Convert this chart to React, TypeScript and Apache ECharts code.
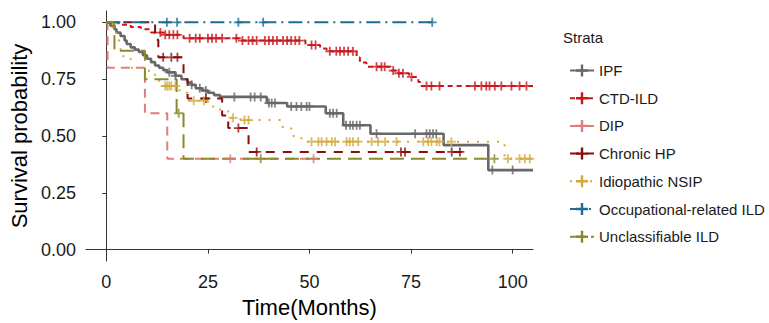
import React, { useEffect, useRef } from "react";
import * as echarts from "echarts";

// ---------- data ----------
const strata = [
  "IPF",
  "CTD-ILD",
  "DIP",
  "Chronic HP",
  "Idiopathic NSIP",
  "Occupational-related ILD",
  "Unclassifiable ILD",
];

const xTicks = [0, 25, 50, 75, 100];
const yTicks = [0, 0.25, 0.5, 0.75, 1];

// IPF
const ipfTime = [0, 1, 2, 2.5, 3.5, 4.5, 5, 6, 7, 8, 9, 10, 11, 12, 13, 14, 15, 17, 18.5, 20, 21, 22, 23.5, 25, 26.5, 28, 39.5, 44.5, 54, 58.3, 65, 83, 94, 105];
const ipfSurv = [1, 0.985, 0.97, 0.955, 0.94, 0.92, 0.905, 0.89, 0.88, 0.87, 0.855, 0.84, 0.825, 0.81, 0.8, 0.79, 0.78, 0.765, 0.75, 0.735, 0.725, 0.71, 0.7, 0.69, 0.68, 0.672, 0.645, 0.63, 0.6, 0.547, 0.51, 0.46, 0.35, 0.35];
const ipfCensor = [15.5, 17, 21, 23, 24.5, 31.5, 35.5, 36.5, 38, 40, 40.7, 41.5, 45.5, 46.8, 48, 49.3, 50, 55, 55.8, 56.7, 59, 60, 60.7, 61.6, 62.4, 66.5, 76, 78.8, 79.6, 80.4, 81.2, 95, 100];

// CTD-ILD
const ctdTime = [0, 3, 6, 8.5, 11, 14, 19, 33, 49, 52.6, 54.2, 61.6, 62.4, 64, 70, 71.5, 74.5, 76.8, 77.5, 105];
const ctdSurv = [1, 0.99, 0.98, 0.97, 0.955, 0.945, 0.93, 0.92, 0.9, 0.885, 0.873, 0.845, 0.823, 0.805, 0.788, 0.776, 0.76, 0.738, 0.72, 0.72];
const ctdCensor = [13.3, 14.5, 15.5, 16.5, 17.5, 20.5, 22, 23, 25, 26, 27, 28.5, 32, 33.5, 35, 36, 37, 39, 40, 41, 42, 43.5, 44.5, 45.5, 46.5, 47.5, 50.5, 51.5, 55, 56.6, 57.5, 58.5, 59.5, 60.7, 66.5, 67.7, 68.5, 70.6, 72, 73, 75.1, 78.8, 80, 82, 90.7, 92.3, 93.5, 94.3, 95.6, 97.2, 99.7, 101.7, 103.4];

// DIP
const dipTime = [0, 0.3, 9.5, 15, 51];
const dipSurv = [1, 0.8, 0.6, 0.4, 0.4];
const dipCensor = [30.5, 51];

// Chronic HP
const hpTime = [0, 12, 12.8, 19, 20, 28.5, 30, 35, 88];
const hpSurv = [1, 0.923, 0.846, 0.75, 0.665, 0.59, 0.535, 0.43, 0.43];
const hpCensor = [14, 16, 17.5, 24.5, 32.5, 37, 72.5, 73.5, 85, 87];

// Idiopathic NSIP
const nsipTime = [0, 1.5, 2.5, 3.5, 4.2, 6, 10.5, 13, 14, 18, 20, 25, 28, 30, 33, 43, 45.5, 48, 98, 105];
const nsipSurv = [1, 0.96, 0.92, 0.88, 0.84, 0.8, 0.77, 0.74, 0.72, 0.69, 0.655, 0.63, 0.61, 0.58, 0.57, 0.54, 0.5, 0.475, 0.4, 0.4];
const nsipCensor = [14.5, 15, 15.5, 16, 17, 21.5, 24, 31.2, 34, 35, 50.5, 52.2, 53, 54.2, 55.5, 56.3, 59.1, 59.9, 60.7, 62, 65.3, 66.9, 68.6, 71.4, 78, 79.2, 80, 81.3, 82, 84.9, 98.8, 101.7, 103, 104.2];

// Occupational-related ILD
const occTime = [0, 80.2];
const occSurv = [1, 1];
const occCensor = [14.9, 17.4, 32.5, 38.6, 80.2];

// Unclassifiable ILD
const uncTime = [0, 2, 9.5, 17.3, 19, 95.5];
const uncSurv = [1, 0.875, 0.75, 0.6, 0.4, 0.4];
const uncCensor = [17.8, 38, 95.5];

const allTimes = [ipfTime, ctdTime, dipTime, hpTime, nsipTime, occTime, uncTime];
const allSurv = [ipfSurv, ctdSurv, dipSurv, hpSurv, nsipSurv, occSurv, uncSurv];
const allCensor = [ipfCensor, ctdCensor, dipCensor, hpCensor, nsipCensor, occCensor, uncCensor];

// ---------- styles ----------
const colors = ["#686868", "#c8171b", "#e27b7d", "#8b0c0c", "#d5a83c", "#1d6c94", "#8a8a2a"];
const dashes: any[] = ["solid", [5, 4], [9, 6], [9, 8], [2, 8], [14, 5, 2, 5], [14, 7]];
const widths = [2.6, 2, 2, 2, 2, 2, 2];

const plusPath = "path://M3.6,0H5.4V3.6H9V5.4H5.4V9H3.6V5.4H0V3.6H3.6Z";
const FONT = "'Liberation Sans', Arial, sans-serif";

function survAt(times: number[], surv: number[], t: number) {
  let v = surv[0];
  for (let i = 0; i < times.length; i++) {
    if (times[i] <= t) v = surv[i];
  }
  return v;
}

export default function App() {
  const ref = useRef<HTMLDivElement>(null);
  useEffect(() => {
    if (!ref.current) return;
    const chart = echarts.init(ref.current, undefined, { renderer: "svg" });

    const lineSeries = strata.map((name, k) => ({
      type: "line",
      name,
      data: allTimes[k].map((t, i) => [t, allSurv[k][i]]),
      step: "end",
      showSymbol: false,
      symbol: plusPath,
      symbolSize: 9,
      lineStyle: { color: colors[k], width: widths[k], type: dashes[k] },
      itemStyle: { color: colors[k] },
      z: 2,
    }));
    const censorSeries = strata.map((name, k) => ({
      type: "scatter",
      name: name + " censor",
      data: allCensor[k].map((t) => [t, survAt(allTimes[k], allSurv[k], t)]),
      symbol: plusPath,
      symbolSize: 9,
      itemStyle: { color: colors[k] },
      z: 3,
    }));

    chart.setOption({
      animation: false,
      backgroundColor: "#ffffff",
      textStyle: { fontFamily: FONT },
      grid: { left: 86, right: 236, top: 11, bottom: 56, containLabel: false },
      xAxis: {
        type: "value",
        min: -5,
        max: 105,
        splitLine: { show: false },
        axisLine: { show: true, lineStyle: { color: "#333", width: 1 } },
        axisTick: { show: true, length: 4, customValues: xTicks, lineStyle: { color: "#333", width: 1 } },
        axisLabel: { customValues: xTicks, fontSize: 18, color: "#1a1a1a", margin: 12, fontFamily: FONT },
        name: "Time(Months)",
        nameLocation: "middle",
        nameGap: 35,
        nameTextStyle: { fontSize: 22, color: "#000", fontFamily: FONT },
      },
      yAxis: {
        type: "value",
        min: -0.05,
        max: 1.05,
        splitLine: { show: false },
        axisLine: { show: true, lineStyle: { color: "#333", width: 1 } },
        axisTick: { show: true, length: 4, customValues: yTicks, lineStyle: { color: "#333", width: 1 } },
        axisLabel: {
          customValues: yTicks,
          fontSize: 18,
          color: "#1a1a1a",
          margin: 10,
          fontFamily: FONT,
          formatter: (v: number) => v.toFixed(2),
        },
        name: "Survival probability",
        nameLocation: "middle",
        nameGap: 50,
        nameTextStyle: { fontSize: 22, color: "#000", fontFamily: FONT },
      },
      legend: {
        data: strata,
        orient: "vertical",
        left: 564,
        top: 58,
        itemWidth: 24,
        itemHeight: 15,
        itemGap: 12.7,
        textStyle: { fontSize: 15, color: "#1a1a1a", fontFamily: FONT },
      },
      graphic: [
        {
          type: "text",
          left: 563,
          top: 30,
          style: { text: "Strata", fontSize: 15, fill: "#1a1a1a", fontFamily: FONT },
        },
      ],
      series: [...lineSeries, ...censorSeries],
    });
    return () => chart.dispose();
  }, []);
  return (
    <div
      ref={ref}
      style={{ position: "absolute", left: 0, top: 0, width: 769, height: 323, background: "#fff" }}
    />
  );
}
